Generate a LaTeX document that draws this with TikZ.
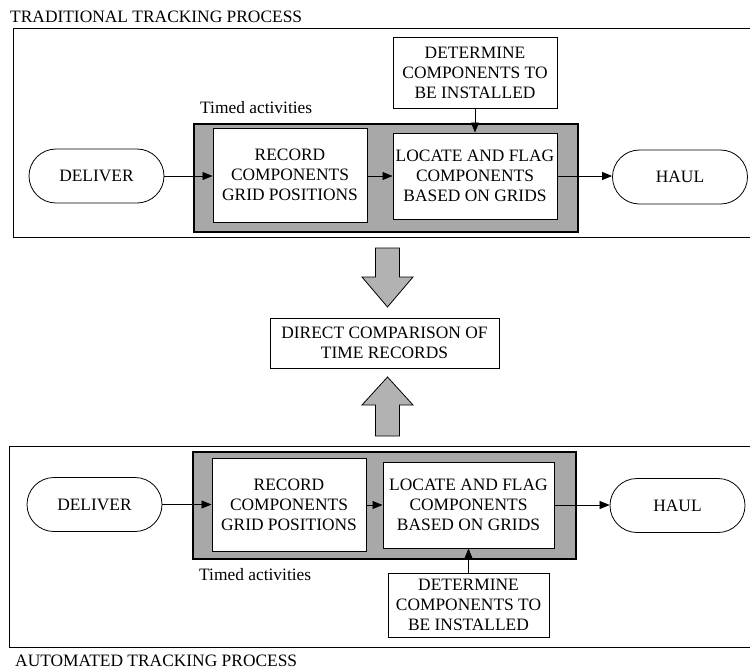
\documentclass[tikz,border=0pt]{standalone}
\usepackage{fontspec}
\setmainfont{Liberation Serif}
\usepackage{tikz}
\usetikzlibrary{arrows.meta}
\usetikzlibrary{shapes.misc}
\tikzset{every node/.style={font=\fontsize{17.4}{20}\selectfont}}
\tikzset{task/.style={draw, line width=1pt, fill=white, align=center, inner sep=0pt}}
\tikzset{terminal/.style={draw, line width=0.8pt, rounded rectangle, minimum width=135pt, minimum height=54pt, inner sep=0pt}}
\tikzset{flow/.style={line width=0.7pt, -{Triangle[length=10pt,width=8pt]}}}
\tikzset{timed/.style={draw, line width=1.5pt, fill=gray!68}}
\tikzset{bigarrow/.style={draw, line width=0.8pt, fill=gray!60}}

\begin{document}
\begin{tikzpicture}[x=1pt, y=-1pt]
  \useasboundingbox (0, 0) rectangle (750, 670);

  \node[anchor=base west, inner sep=0pt] (titleA) at (10, 22) {TRADITIONAL TRACKING PROCESS};
  \draw[line width=0.8pt] (750, 28) -| (13, 237) -- (750, 237);

  \draw[timed] (194, 124) rectangle (578, 232);
  \node[anchor=west, inner sep=0pt] (timedA) at (200, 108) {Timed activities};

  \node[terminal] (deliverA) at (96.5, 176) {DELIVER};
  \node[task, minimum width=154pt, minimum height=94pt] (recordA) at (290, 175) {RECORD\\COMPONENTS\\GRID POSITIONS};
  \node[task, minimum width=164pt, minimum height=86pt] (locateA) at (475, 176) {LOCATE AND FLAG\\COMPONENTS\\BASED ON GRIDS};
  \node[terminal] (haulA) at (680, 177) {HAUL};
  \node[task, minimum width=164pt, minimum height=71pt] (determineA) at (475, 72.5) {DETERMINE\\COMPONENTS TO\\BE INSTALLED};

  \draw[flow] (deliverA.east) -- (deliverA.east -| recordA.west);
  \draw[flow] (recordA.east |- locateA.west) -- (locateA.west);
  \draw[flow] (locateA.east) -- (locateA.east -| haulA.west);
  \draw[flow] (determineA.south) -- (locateA.north);

  \node[task, minimum width=229pt, minimum height=50pt] (compare) at (384.5, 343) {DIRECT COMPARISON OF\\TIME RECORDS};

  \draw[bigarrow] (375.5, 248) -- (399.5, 248) -- (399.5, 277) -- (413, 277) -- (387.5, 307) -- (362, 277) -- (375.5, 277) -- cycle;
  \draw[bigarrow] (375.5, 436) -- (399.5, 436) -- (399.5, 405) -- (413, 405) -- (387.5, 377) -- (362, 405) -- (375.5, 405) -- cycle;

  \draw[line width=0.8pt] (750, 446) -| (9, 647) -- (750, 647);
  \node[anchor=base west, inner sep=0pt] (titleB) at (15, 666) {AUTOMATED TRACKING PROCESS};

  \draw[timed] (193, 452) rectangle (576, 559);
  \node[anchor=west, inner sep=0pt] (timedB) at (199, 575) {Timed activities};

  \node[terminal] (deliverB) at (94.5, 504.5) {DELIVER};
  \node[task, minimum width=154pt, minimum height=93pt] (recordB) at (289, 504.5) {RECORD\\COMPONENTS\\GRID POSITIONS};
  \node[task, minimum width=171pt, minimum height=86pt] (locateB) at (468.5, 505) {LOCATE AND FLAG\\COMPONENTS\\BASED ON GRIDS};
  \node[terminal] (haulB) at (677.5, 505.5) {HAUL};
  \node[task, minimum width=161pt, minimum height=64pt] (determineB) at (468.5, 605) {DETERMINE\\COMPONENTS TO\\BE INSTALLED};

  \draw[flow] (deliverB.east) -- (deliverB.east -| recordB.west);
  \draw[flow] (recordB.east |- locateB.west) -- (locateB.west);
  \draw[flow] (locateB.east) -- (locateB.east -| haulB.west);
  \draw[flow] (determineB.north) -- (locateB.south);
\end{tikzpicture}
\end{document}
